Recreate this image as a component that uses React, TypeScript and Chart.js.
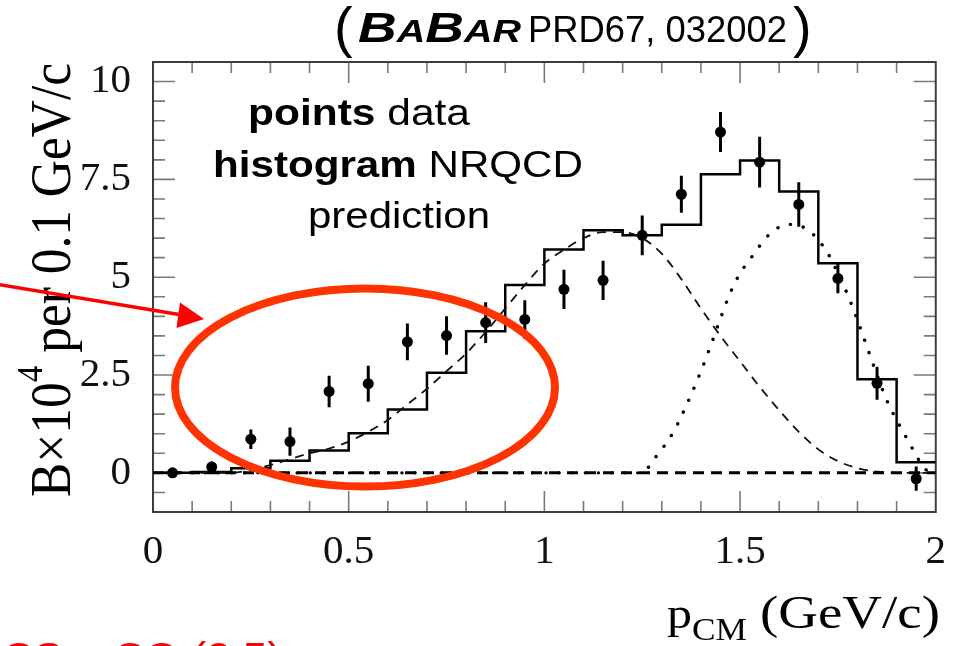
import React, { useEffect, useRef } from 'react';
import { Chart, registerables } from 'chart.js';

Chart.register(...registerables);

// ---- data ----
const binCenters = [0.05, 0.15, 0.25, 0.35, 0.45, 0.55, 0.65, 0.75, 0.85, 0.95, 1.05, 1.15, 1.25, 1.35, 1.45, 1.55, 1.65, 1.75, 1.85, 1.95];
const dataValues = [0.0, 0.15, 0.86, 0.8, 2.08, 2.28, 3.35, 3.51, 3.84, 3.92, 4.69, 4.92, 6.07, 7.12, 8.71, 7.94, 6.86, 4.97, 2.29, -0.15];
const dataErrors = [0.05, 0.14, 0.25, 0.36, 0.4, 0.46, 0.47, 0.49, 0.52, 0.49, 0.5, 0.5, 0.51, 0.47, 0.51, 0.65, 0.57, 0.38, 0.42, 0.31];

const histEdges = [0, 0.1, 0.2, 0.3, 0.4, 0.5, 0.6, 0.7, 0.8, 0.9, 1.0, 1.1, 1.2, 1.3, 1.4, 1.5, 1.6, 1.7, 1.8, 1.9, 2.0];
const histValues = [0.0, 0.02, 0.12, 0.31, 0.57, 1.01, 1.62, 2.56, 3.62, 4.8, 5.71, 6.2, 6.07, 6.34, 7.63, 7.98, 7.19, 5.36, 2.39, 0.27];

const dashedX = [0, 0.2, 0.25, 0.3, 0.35, 0.4, 0.45, 0.5, 0.55, 0.6, 0.65, 0.7, 0.75, 0.8, 0.85, 0.9, 0.95, 1.0, 1.05, 1.1, 1.15, 1.2, 1.25, 1.3, 1.35, 1.4, 1.45, 1.5, 1.55, 1.6, 1.65, 1.7, 1.75, 1.8, 1.85, 1.9, 2.0];
const dashedY = [0, 0, 0.08, 0.2, 0.35, 0.5, 0.62, 0.8, 1.05, 1.35, 1.75, 2.15, 2.6, 3.05, 3.6, 4.2, 4.8, 5.35, 5.7, 6.0, 6.15, 6.15, 6.0, 5.6, 4.95, 4.2, 3.5, 2.85, 2.2, 1.6, 1.05, 0.6, 0.3, 0.12, 0.03, 0, 0];

const dottedX = [0, 1.25, 1.28, 1.3, 1.33, 1.35, 1.375, 1.4, 1.425, 1.45, 1.475, 1.5, 1.525, 1.55, 1.575, 1.6, 1.625, 1.65, 1.675, 1.7, 1.725, 1.75, 1.775, 1.8, 1.825, 1.85, 1.875, 1.9, 1.925, 1.95, 1.97, 2.0];
const dottedY = [0, 0, 0.35, 0.6, 1.05, 1.45, 2.0, 2.6, 3.25, 3.95, 4.6, 5.1, 5.45, 5.8, 6.1, 6.28, 6.35, 6.32, 6.2, 5.95, 5.6, 5.1, 4.55, 3.9, 3.2, 2.5, 1.85, 1.35, 0.9, 0.45, 0.12, 0];

const baselineX = [0, 2];
const baselineY = [0, 0];

const xMin = 0, xMax = 2, xStep = 0.1;
const yMin = -1, yMax = 10.5, yStep = 0.5;

const SERIF = '"Liberation Serif", "Times New Roman", serif';
const SANS = '"Liberation Sans", Arial, sans-serif';

type Run = { text: string; font: string; dy?: number };

function drawRuns(
  ctx: CanvasRenderingContext2D,
  runs: Run[],
  x: number,
  y: number,
  opts: { width?: number; rotate?: number; sy?: number; color?: string } = {}
) {
  let total = 0;
  for (const r of runs) {
    ctx.font = r.font;
    total += ctx.measureText(r.text).width;
  }
  const sx = opts.width ? opts.width / total : 1;
  ctx.save();
  ctx.translate(x, y);
  if (opts.rotate) ctx.rotate(opts.rotate);
  ctx.scale(sx, opts.sy || 1);
  ctx.fillStyle = opts.color || '#000';
  ctx.textBaseline = 'alphabetic';
  ctx.textAlign = 'left';
  let cx = 0;
  for (const r of runs) {
    ctx.font = r.font;
    ctx.fillText(r.text, cx, r.dy || 0);
    cx += ctx.measureText(r.text).width;
  }
  ctx.restore();
}

const frameTicks = {
  id: 'frameTicks',
  beforeDatasetsDraw(chart: any) {
    const { ctx, chartArea: a, scales } = chart;
    const xs = scales.x, ys = scales.y;
    ctx.save();
    ctx.strokeStyle = '#7a7a7a';
    ctx.lineWidth = 1.6;
    ctx.beginPath();
    xs.ticks.forEach((t: any) => {
      const px = xs.getPixelForValue(t.value);
      if (px <= a.left + 1 || px >= a.right - 1) return;
      const major = Math.round(t.value * 10) % 5 === 0;
      const L = major ? 21 : 11;
      ctx.moveTo(px, a.bottom);
      ctx.lineTo(px, a.bottom - L);
      ctx.moveTo(px, a.top);
      ctx.lineTo(px, a.top + L);
    });
    ys.ticks.forEach((t: any) => {
      const py = ys.getPixelForValue(t.value);
      if (py <= a.top + 1 || py >= a.bottom - 1) return;
      const q = t.value / 2.5;
      const major = Math.abs(q - Math.round(q)) < 1e-6;
      const L = major ? 22 : 12;
      ctx.moveTo(a.left, py);
      ctx.lineTo(a.left + L, py);
      ctx.moveTo(a.right, py);
      ctx.lineTo(a.right - L, py);
    });
    ctx.stroke();
    ctx.strokeStyle = '#3c3c3c';
    ctx.lineWidth = 2;
    ctx.strokeRect(a.left, a.top, a.right - a.left, a.bottom - a.top);

    // error bars of the data points
    ctx.strokeStyle = '#000';
    ctx.lineWidth = 3;
    ctx.beginPath();
    binCenters.forEach((x, i) => {
      const px = xs.getPixelForValue(x);
      ctx.moveTo(px, ys.getPixelForValue(dataValues[i] - dataErrors[i]));
      ctx.lineTo(px, ys.getPixelForValue(dataValues[i] + dataErrors[i]));
    });
    ctx.stroke();
    ctx.restore();
  },
};

const annotations = {
  id: 'annotations',
  afterDraw(chart: any) {
    const ctx: CanvasRenderingContext2D = chart.ctx;
    // title
    drawRuns(ctx, [{ text: '(', font: `56px ${SANS}` }], 334, 46);
    drawRuns(
      ctx,
      [
        { text: 'B', font: `italic bold 42px ${SANS}` },
        { text: 'A', font: `italic bold 31px ${SANS}` },
        { text: 'B', font: `italic bold 42px ${SANS}` },
        { text: 'AR', font: `italic bold 31px ${SANS}` },
      ],
      358,
      42,
      { width: 163 }
    );
    drawRuns(ctx, [{ text: 'PRD67, 032002', font: `37px ${SANS}` }], 528, 42, { width: 259 });
    drawRuns(ctx, [{ text: ')', font: `56px ${SANS}` }], 793, 46);

    // in-plot legend text
    drawRuns(
      ctx,
      [
        { text: 'points', font: `bold 37px ${SANS}` },
        { text: ' data', font: `37px ${SANS}` },
      ],
      248,
      125,
      { width: 222 }
    );
    drawRuns(
      ctx,
      [
        { text: 'histogram', font: `bold 37px ${SANS}` },
        { text: ' NRQCD', font: `37px ${SANS}` },
      ],
      213,
      177,
      { width: 370 }
    );
    drawRuns(ctx, [{ text: 'prediction', font: `37px ${SANS}` }], 308, 228, { width: 182 });

    // y-axis title (rotated)
    drawRuns(
      ctx,
      [
        { text: 'B\u00d710', font: `48px ${SERIF}` },
        { text: '4', font: `31px ${SERIF}`, dy: -24 },
        { text: ' per 0.1 GeV/c', font: `48px ${SERIF}` },
      ],
      70,
      497,
      { width: 434, rotate: -Math.PI / 2, sy: 1.18 }
    );

    // x-axis title
    drawRuns(
      ctx,
      [
        { text: 'p', font: `44px ${SERIF}` },
        { text: 'CM', font: `31px ${SERIF}`, dy: 12 },
      ],
      667,
      628,
      { width: 80 }
    );
    drawRuns(ctx, [{ text: '(GeV/c)', font: `46px ${SERIF}` }], 760, 628, { width: 180 });

    // red annotations
    ctx.save();
    ctx.strokeStyle = '#ff3300';
    ctx.lineWidth = 8;
    ctx.beginPath();
    ctx.ellipse(365, 387.5, 190, 99, 0, 0, Math.PI * 2);
    ctx.stroke();

    ctx.strokeStyle = '#ff0000';
    ctx.fillStyle = '#ff0000';
    ctx.lineWidth = 3.5;
    ctx.beginPath();
    ctx.moveTo(-2, 284.5);
    ctx.lineTo(185, 315.5);
    ctx.stroke();
    ctx.beginPath();
    ctx.moveTo(204, 319);
    ctx.lineTo(180, 302.5);
    ctx.lineTo(176.5, 328);
    ctx.closePath();
    ctx.fill();
    ctx.restore();

    drawRuns(ctx, [{ text: 'CS + CO (2.5)', font: `40px ${SANS}` }], 2, 671, { width: 280, color: '#ff0000' });
  },
};

export default function App() {
  const ref = useRef<HTMLCanvasElement>(null);
  useEffect(() => {
    const canvas = ref.current;
    if (!canvas) return;
    const chart = new Chart(canvas, {
      type: 'line',
      data: {
        datasets: [
          {
            label: 'baseline',
            data: baselineX.map((x, i) => ({ x, y: baselineY[i] })),
            borderColor: '#000',
            borderWidth: 3,
            borderDash: [11, 7],
            pointRadius: 0,
            fill: false,
          },
          {
            label: 'fit component (dashed)',
            data: dashedX.map((x, i) => ({ x, y: dashedY[i] })),
            borderColor: '#111',
            borderWidth: 1.8,
            borderDash: [9, 7],
            pointRadius: 0,
            cubicInterpolationMode: 'monotone',
            fill: false,
          },
          {
            label: 'fit component (dotted)',
            data: dottedX.map((x, i) => ({ x, y: dottedY[i] })),
            borderColor: '#000',
            borderWidth: 3.4,
            borderDash: [0.1, 13],
            borderCapStyle: 'round',
            pointRadius: 0,
            cubicInterpolationMode: 'monotone',
            fill: false,
          },
          {
            label: 'NRQCD histogram',
            data: histEdges.map((x, i) => ({ x, y: histValues[Math.min(i, histValues.length - 1)] })),
            borderColor: '#000',
            borderWidth: 2.5,
            stepped: 'before',
            pointRadius: 0,
            fill: false,
          },
          {
            label: 'data',
            data: binCenters.map((x, i) => ({ x, y: dataValues[i] })),
            showLine: false,
            pointRadius: 5.5,
            pointBackgroundColor: '#000',
            pointBorderWidth: 0,
            borderColor: '#000',
          },
        ],
      },
      options: {
        animation: false,
        responsive: false,
        devicePixelRatio: 1,
        layout: { padding: { left: 0, right: 21, top: 62, bottom: 0 } },
        plugins: { legend: { display: false }, tooltip: { enabled: false }, title: { display: false } },
        events: [],
        scales: {
          x: {
            type: 'linear',
            min: xMin,
            max: xMax,
            grid: { display: false, drawTicks: false },
            border: { display: false },
            afterFit: (s: any) => {
              s.height = 134;
            },
            ticks: {
              stepSize: xStep,
              autoSkip: false,
              maxRotation: 0,
              padding: 16,
              color: '#111',
              font: { family: SERIF, size: 41 },
              callback: (v: any) => {
                const k = Math.round(Number(v) * 10);
                return k % 5 === 0 ? String(k / 10) : '';
              },
            },
          },
          y: {
            type: 'linear',
            min: yMin,
            max: yMax,
            grid: { display: false, drawTicks: false },
            border: { display: false },
            afterFit: (s: any) => {
              s.width = 153;
            },
            ticks: {
              stepSize: yStep,
              autoSkip: false,
              padding: 22,
              color: '#111',
              font: { family: SERIF, size: 41 },
              callback: (v: any) => {
                const r = Math.round(Number(v) * 10) / 10;
                const q = r / 2.5;
                return Math.abs(q - Math.round(q)) < 1e-6 ? String(r) : '';
              },
            },
          },
        },
      },
      plugins: [frameTicks, annotations],
    } as any);
    return () => chart.destroy();
  }, []);
  return (
    <div style={{ position: 'fixed', left: 0, top: 0, width: 962, height: 646, background: '#fff' }}>
      <canvas ref={ref} width={962} height={646} style={{ display: 'block' }} />
    </div>
  );
}
